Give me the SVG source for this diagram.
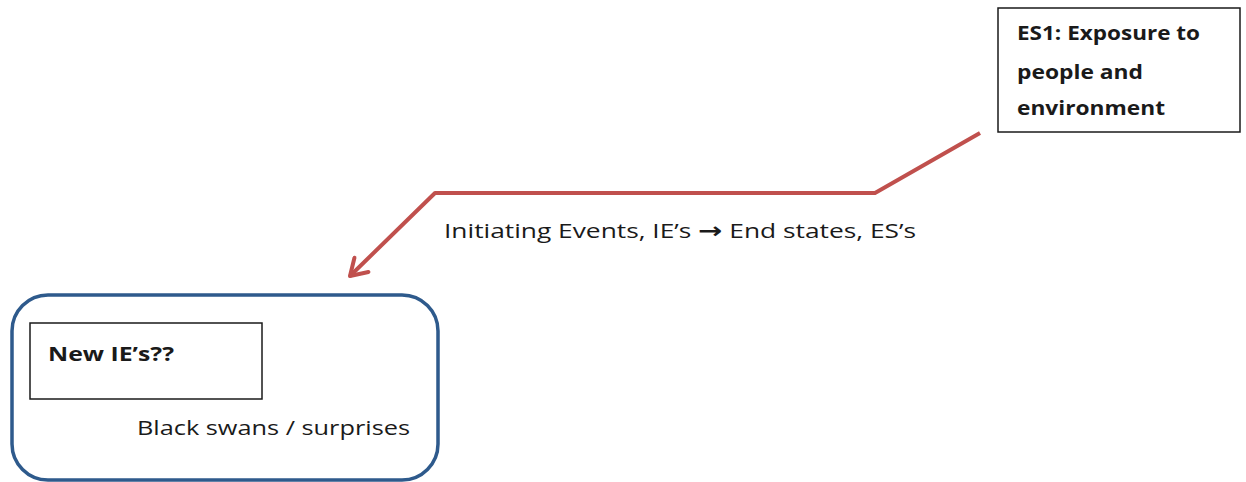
<svg xmlns="http://www.w3.org/2000/svg" width="1246" height="482" viewBox="0 0 1246 482">
<style>
.lbl{font-family:"Open Sans","Liberation Sans",sans-serif;font-size:20px;fill:#1a1a1a}
.bold{font-family:"Open Sans","Liberation Sans",sans-serif;font-size:19px;font-weight:bold;fill:#1a1a1a}
.sym{font-family:"DejaVu Sans",sans-serif;font-weight:bold;font-size:22px}
.box{fill:#fff;stroke:#1a1a1a;stroke-width:1.5}
.conn{fill:none;stroke:#c0504d;stroke-width:4;stroke-linejoin:round}
</style>
<defs>
<marker id="arr" viewBox="0 0 12 12" refX="10" refY="6" markerWidth="6" markerHeight="6" orient="auto" markerUnits="strokeWidth">
<polyline points="2,1 10,6 2,11" fill="none" stroke="#c0504d" stroke-width="2" stroke-linecap="round" stroke-linejoin="round"/>
</marker>
</defs>
<rect width="1246" height="482" fill="#fff"/>
<g id="connectors">
<polyline class="conn" points="980,133 875,193 435,193 350,276" marker-end="url(#arr)"/>
<text class="lbl" x="444" y="238" textLength="472" lengthAdjust="spacingAndGlyphs">Initiating Events, IE’s <tspan class="sym">→</tspan> End states, ES’s</text>
</g>
<g id="es1">
<rect class="box" x="998" y="8" width="242" height="124"/>
<text class="bold" x="1017" y="40" textLength="183" lengthAdjust="spacingAndGlyphs">ES1: Exposure to</text>
<text class="bold" x="1017" y="79" textLength="126" lengthAdjust="spacingAndGlyphs">people and</text>
<text class="bold" x="1017" y="115" textLength="148" lengthAdjust="spacingAndGlyphs">environment</text>
</g>
<g id="surprises">
<rect x="12" y="295" width="426" height="185" rx="36" fill="#fff" stroke="#2e5a8c" stroke-width="3.5"/>
<text class="lbl" x="137" y="435" textLength="273" lengthAdjust="spacingAndGlyphs">Black swans / surprises</text>
</g>
<g id="newie">
<rect class="box" x="30" y="323" width="232" height="76"/>
<text class="bold" x="48" y="361" textLength="126" lengthAdjust="spacingAndGlyphs">New IE’s??</text>
</g>
</svg>
